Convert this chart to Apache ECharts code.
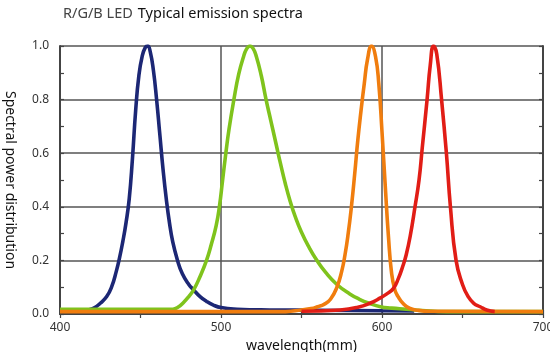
<!DOCTYPE html>
<html>
<head>
<meta charset="utf-8">
<title>R/G/B LED Typical emission spectra</title>
<script src="https://cdn.jsdelivr.net/npm/echarts@6/dist/echarts.min.js"></script>
<style>
  html,body{ margin:0; padding:0; background:#fff; }
  #chart{ width:550px; height:352px; }
</style>
</head>
<body>
<div id="chart"></div>
<script>
// ---------- 数据（读自参考图）----------
var xTicks = [400, 500, 600, 700];
var yTicks = [0, 0.2, 0.4, 0.6, 0.8, 1.0];

var blueNm  = [400, 412, 418, 421, 425, 429, 432, 435, 437, 439, 441, 443, 445, 447, 449, 451, 453, 454.5, 456, 458, 460, 462, 464, 466, 468, 470, 473, 476, 480, 483, 487, 491, 495, 500, 510, 530, 560, 600, 620];
var blueVal = [0.012, 0.012, 0.016, 0.022, 0.04, 0.065, 0.1, 0.16, 0.21, 0.27, 0.34, 0.43, 0.58, 0.76, 0.89, 0.96, 0.995, 1.0, 0.98, 0.91, 0.8, 0.67, 0.54, 0.43, 0.34, 0.27, 0.2, 0.15, 0.11, 0.09, 0.065, 0.047, 0.034, 0.024, 0.018, 0.015, 0.014, 0.012, 0.011];

var greenNm  = [400, 470, 473, 477, 480, 483, 487, 491, 494, 497, 499, 501, 503, 505, 508, 511, 514, 516, 518, 520, 522, 525, 528, 531, 534, 537, 540, 543, 546, 550, 555, 559, 565, 572, 580, 586, 592, 599, 606, 615, 625, 640, 700];
var greenVal = [0.018, 0.018, 0.024, 0.045, 0.065, 0.09, 0.14, 0.2, 0.26, 0.33, 0.4, 0.5, 0.6, 0.69, 0.8, 0.895, 0.96, 0.99, 1.0, 0.99, 0.96, 0.89, 0.8, 0.72, 0.64, 0.56, 0.485, 0.42, 0.365, 0.305, 0.245, 0.205, 0.155, 0.11, 0.075, 0.055, 0.04, 0.027, 0.022, 0.018, 0.013, 0.009, 0.009];

var orangeNm  = [400, 540, 550, 556, 560, 564, 568, 572, 575, 577, 579, 581, 583, 585, 587, 589, 591, 593.5, 596, 598, 600, 602, 604, 606, 608, 610, 613, 617, 622, 630, 700];
var orangeVal = [0.009, 0.009, 0.015, 0.02, 0.027, 0.036, 0.055, 0.1, 0.16, 0.22, 0.3, 0.4, 0.52, 0.65, 0.76, 0.86, 0.95, 1.0, 0.96, 0.86, 0.68, 0.48, 0.29, 0.15, 0.09, 0.065, 0.04, 0.022, 0.014, 0.01, 0.009];

var redNm  = [550, 574, 585, 592.5, 599, 603, 607, 610, 613, 615, 617.5, 620.5, 623, 625, 628, 630, 632, 634, 637, 640, 642.5, 646, 650, 653.5, 657, 661, 665, 670];
var redVal = [0.01, 0.015, 0.025, 0.04, 0.06, 0.075, 0.095, 0.13, 0.18, 0.22, 0.29, 0.4, 0.5, 0.62, 0.8, 0.93, 1.0, 0.97, 0.8, 0.6, 0.4, 0.2, 0.11, 0.065, 0.04, 0.027, 0.015, 0.009];

// ---------- 样式 ----------
var FRAME = "#444", GRIDC = "#555", INK = "#333";
function pairs(xs, ys){ return xs.map(function(x, i){ return [x, ys[i]]; }); }
function curve(name, xs, ys, col){
  return { name:name, type:"line", data:pairs(xs, ys), symbol:"none", smooth:0.5,
           lineStyle:{ color:col, width:3.6 }, itemStyle:{ color:col } };
}
// 四边外框 + 朝内的刻度（主刻度 + 次刻度）
function frameAxis(extra){
  var a = {
    type:"value", axisLine:{ show:true, lineStyle:{ color:FRAME, width:2 } },
    axisTick:{ show:true, inside:true, length:4, lineStyle:{ color:FRAME, width:1.2 } },
    minorTick:{ show:true, splitNumber:2, length:4, lineStyle:{ color:FRAME, width:1.2 } },
    splitLine:{ show:false }, axisLabel:{ show:false }
  };
  for(var k in extra) a[k] = extra[k];
  return a;
}

var chart = echarts.init(document.getElementById("chart"), null, { renderer:"canvas" });
chart.setOption({
  animation:false,
  title:{
    text:"{a|R/G/B LED} {b|Typical emission spectra}", left:58, top:0,
    textStyle:{ fontWeight:"normal", rich:{
      a:{ fontFamily:"Noto Sans", fontSize:14.5, fontWeight:"normal", color:"#444" },
      b:{ fontFamily:"Noto Sans", fontSize:14.5, fontWeight:"normal", color:"#111" }
    } }
  },
  grid:{ left:60, right:7, top:46, bottom:38, containLabel:false, outerBoundsMode:"none" },
  xAxis:[
    frameAxis({ min:xTicks[0], max:xTicks[xTicks.length-1], interval:100, position:"bottom",
      name:"wavelength(mm)", nameLocation:"middle", nameGap:22,
      nameTextStyle:{ fontFamily:"Noto Sans", fontSize:14, color:"#111" },
      axisLabel:{ show:true, margin:8, fontFamily:"Noto Sans", fontSize:12, color:INK },
      splitLine:{ show:true, lineStyle:{ color:GRIDC, width:1.5 } } }),
    frameAxis({ min:xTicks[0], max:xTicks[xTicks.length-1], interval:100, position:"top" })
  ],
  yAxis:[
    frameAxis({ min:yTicks[0], max:yTicks[yTicks.length-1], interval:0.2, position:"left",
      name:"Spectral power distribution", nameLocation:"middle", nameGap:43, nameRotate:-90,
      nameTextStyle:{ fontFamily:"Noto Sans", fontSize:14, color:"#111" },
      axisLabel:{ show:true, margin:11, fontFamily:"Noto Sans", fontSize:12, color:INK,
                  formatter:function(v){ return v.toFixed(1); } },
      splitLine:{ show:true, lineStyle:{ color:GRIDC, width:1.5 } } }),
    frameAxis({ min:yTicks[0], max:yTicks[yTicks.length-1], interval:0.2, position:"right" })
  ],
  series:[
    curve("B",  blueNm,   blueVal,   "#1c2775"),
    curve("G",  greenNm,  greenVal,  "#7fc31c"),
    curve("O",  orangeNm, orangeVal, "#f07d0e"),
    curve("R",  redNm,    redVal,    "#e11d16")
  ]
});
</script>
</body>
</html>
